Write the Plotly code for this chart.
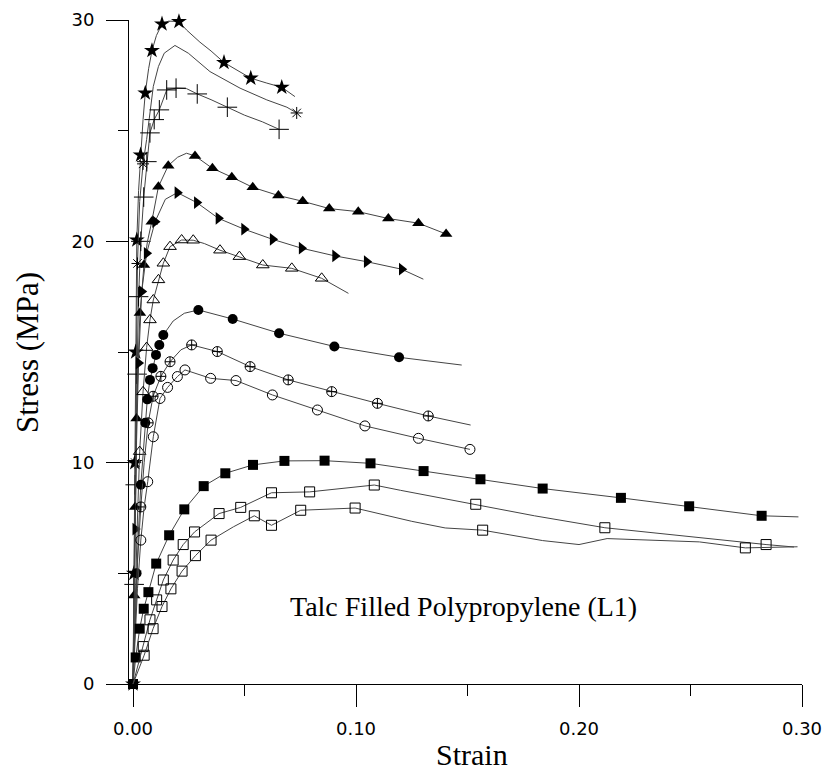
import plotly.graph_objects as go

# ---------------- data (strain, stress in MPa) ----------------
star_x = [0, 0.0004, 0.0008, 0.0012, 0.0017, 0.0025, 0.0034, 0.0045, 0.0055, 0.007, 0.0085, 0.0105, 0.013, 0.016, 0.0206, 0.024, 0.03, 0.035, 0.0408, 0.047, 0.0528, 0.06, 0.0667, 0.0726]
star_y = [0, 5, 10, 15, 20.06, 22.3, 23.9, 25.5, 26.7, 27.8, 28.62, 29.3, 29.82, 29.95, 29.93, 29.55, 29.0, 28.6, 28.08, 27.7, 27.37, 27.15, 26.96, 26.54]
star_mk = [0, 1, 2, 3, 4, 6, 8, 10, 12, 14, 18, 20, 22]

ast_x = [0, 0.0005, 0.001, 0.0015, 0.002, 0.003, 0.0045, 0.0061, 0.0076, 0.0091, 0.0114, 0.014, 0.0188, 0.0248, 0.0345, 0.048, 0.06, 0.069, 0.0734]
ast_y = [0, 5, 10, 15, 19, 21.8, 23.5, 24.6, 25.9, 27.0, 27.9, 28.5, 28.85, 28.5, 27.67, 26.92, 26.39, 26.06, 25.8]
ast_mk = [2, 4, 6, 18]

plus_x = [0, 0.0005, 0.001, 0.0018, 0.0025, 0.0035, 0.0048, 0.0062, 0.0076, 0.0095, 0.0118, 0.0151, 0.0193, 0.024, 0.0288, 0.035, 0.0423, 0.05, 0.058, 0.0655]
plus_y = [0, 4.5, 9, 14, 17.5, 20, 22, 23.6, 24.9, 25.5, 25.94, 26.84, 26.92, 26.9, 26.66, 26.4, 26.06, 25.7, 25.4, 25.06]
plus_mk = [1, 2, 3, 4, 5, 6, 7, 8, 9, 10, 11, 12, 14, 16, 19]

tri_x = [0, 0.0005, 0.001, 0.0016, 0.0023, 0.0031, 0.0039, 0.0049, 0.0065, 0.0084, 0.0114, 0.0158, 0.02, 0.024, 0.0278, 0.0356, 0.0443, 0.0537, 0.0652, 0.0761, 0.088, 0.101, 0.1145, 0.128, 0.1404]
tri_y = [0, 4, 8, 12, 14.5, 16.76, 17.65, 18.93, 20.0, 20.89, 22.47, 23.42, 23.8, 23.98, 23.86, 23.3, 22.9, 22.44, 22.07, 21.81, 21.48, 21.34, 21.03, 20.82, 20.33]
tri_mk = [1, 2, 3, 5, 7, 9, 10, 11, 14, 15, 16, 17, 18, 19, 20, 21, 22, 23, 24]

trr_x = [0, 0.0005, 0.001, 0.0016, 0.0025, 0.0039, 0.0061, 0.0099, 0.0145, 0.0199, 0.0286, 0.0383, 0.0498, 0.0626, 0.0756, 0.0906, 0.1048, 0.1205, 0.1302]
trr_y = [0, 3.5, 7, 11, 14.5, 17.73, 19.46, 20.89, 21.9, 22.2, 21.75, 21.04, 20.55, 20.09, 19.69, 19.34, 19.08, 18.74, 18.29]
trr_mk = [2, 4, 5, 6, 7, 9, 10, 11, 12, 13, 14, 15, 16, 17]

tro_x = [0, 0.001, 0.002, 0.003, 0.0045, 0.0061, 0.0076, 0.0091, 0.0114, 0.0136, 0.0166, 0.0218, 0.027, 0.032, 0.039, 0.0477, 0.0582, 0.0712, 0.0846, 0.0966]
tro_y = [0, 4, 7.5, 10.5, 13.2, 15.2, 16.45, 17.35, 18.26, 19.01, 19.76, 20.06, 20.05, 19.9, 19.6, 19.31, 18.93, 18.78, 18.33, 17.65]
tro_mk = [3, 4, 5, 6, 7, 8, 9, 10, 11, 12, 14, 15, 16, 17, 18]

cir_x = [0, 0.0008, 0.0016, 0.0025, 0.0035, 0.0045, 0.0055, 0.0064, 0.0076, 0.0088, 0.0103, 0.0118, 0.0136, 0.018, 0.023, 0.0293, 0.0447, 0.0655, 0.0903, 0.1193, 0.1474]
cir_y = [0, 2.5, 5, 7, 9, 10.5, 11.8, 12.86, 13.74, 14.27, 14.87, 15.32, 15.77, 16.4, 16.75, 16.9, 16.49, 15.85, 15.25, 14.76, 14.41]
cir_mk = [2, 4, 6, 7, 8, 9, 10, 11, 12, 15, 16, 17, 18, 19]

cxo_x = [0, 0.001, 0.002, 0.0035, 0.005, 0.0068, 0.009, 0.0125, 0.0166, 0.0215, 0.0263, 0.0378, 0.0525, 0.0696, 0.0891, 0.1096, 0.1324, 0.1514]
cxo_y = [0, 2.8, 5.5, 8, 10, 11.8, 13.0, 13.9, 14.56, 15.1, 15.32, 15.02, 14.34, 13.74, 13.21, 12.68, 12.11, 11.7]
cxo_mk = [3, 5, 6, 7, 8, 10, 11, 12, 13, 14, 15, 16]

cio_x = [0, 0.001, 0.002, 0.0035, 0.005, 0.0066, 0.0091, 0.0121, 0.0155, 0.0199, 0.0233, 0.0348, 0.0462, 0.0625, 0.0827, 0.104, 0.128, 0.1511]
cio_y = [0, 2.2, 4.3, 6.5, 8.0, 9.14, 11.17, 12.9, 13.4, 13.89, 14.19, 13.81, 13.71, 13.06, 12.38, 11.66, 11.1, 10.6]
cio_mk = [3, 5, 6, 7, 8, 9, 10, 11, 12, 13, 14, 15, 16, 17]

sqf_x = [0, 0.0012, 0.003, 0.0048, 0.0069, 0.0104, 0.0162, 0.023, 0.0317, 0.0414, 0.0538, 0.0679, 0.0859, 0.1065, 0.1303, 0.1558, 0.1837, 0.2188, 0.2494, 0.2819, 0.2984]
sqf_y = [0, 1.2, 2.5, 3.4, 4.15, 5.44, 6.72, 7.89, 8.94, 9.52, 9.9, 10.08, 10.09, 9.97, 9.62, 9.25, 8.83, 8.41, 8.03, 7.6, 7.55]
sqf_mk = [0, 1, 2, 3, 4, 5, 6, 7, 8, 9, 10, 11, 12, 13, 14, 15, 16, 17, 18, 19]

sqx_x = [0, 0.0046, 0.0076, 0.0106, 0.0136, 0.018, 0.0225, 0.0276, 0.0386, 0.0483, 0.0621, 0.0792, 0.095, 0.1082, 0.12, 0.1537, 0.18, 0.2116, 0.25, 0.2839, 0.2964]
sqx_y = [0, 1.69, 2.9, 3.8, 4.7, 5.6, 6.3, 6.87, 7.7, 7.98, 8.64, 8.68, 8.85, 8.99, 8.75, 8.12, 7.6, 7.06, 6.65, 6.3, 6.19]
sqx_mk = [1, 2, 3, 4, 5, 6, 7, 8, 9, 10, 11, 13, 15, 17, 19]

sqo_x = [0, 0.005, 0.009, 0.013, 0.017, 0.022, 0.028, 0.035, 0.045, 0.0544, 0.0621, 0.0752, 0.0996, 0.11, 0.125, 0.14, 0.1568, 0.1837, 0.2, 0.2126, 0.254, 0.2746, 0.298]
sqo_y = [0, 1.3, 2.5, 3.5, 4.3, 5.1, 5.8, 6.5, 7.1, 7.6, 7.17, 7.85, 7.95, 7.7, 7.35, 7.05, 6.95, 6.48, 6.3, 6.57, 6.42, 6.15, 6.2]
sqo_mk = [1, 2, 3, 4, 5, 6, 7, 9, 10, 11, 12, 16, 21]

x_ticks = [0, 0.1, 0.2, 0.3]
x_ticktext = ["0.00", "0.10", "0.20", "0.30"]
x_minor = [0.05, 0.15, 0.25]
y_ticks = [0, 10, 20, 30]
y_ticktext = ["0", "10", "20", "30"]
y_minor = [5, 15, 25]

# ---------------- styling ----------------
curves = [
    (star_x, star_y, star_mk, "star", 12, 0),
    (ast_x, ast_y, ast_mk, "asterisk-open", 10, 1),
    (plus_x, plus_y, plus_mk, "cross-thin-open", 14, 1),
    (tri_x, tri_y, tri_mk, "triangle-up", 11, 0),
    (trr_x, trr_y, trr_mk, "triangle-right", 11, 0),
    (tro_x, tro_y, tro_mk, "triangle-up-open", 11, 1),
    (cir_x, cir_y, cir_mk, "circle", 10, 0),
    (cxo_x, cxo_y, cxo_mk, "circle-cross-open", 10, 1),
    (cio_x, cio_y, cio_mk, "circle-open", 10, 1),
    (sqf_x, sqf_y, sqf_mk, "square", 10, 0),
    (sqx_x, sqx_y, sqx_mk, "square-open", 10, 1),
    (sqo_x, sqo_y, sqo_mk, "square-open", 10, 1),
]

fig = go.Figure()
for xs, ys, mk, sym, sz, lw in curves:
    fig.add_trace(go.Scatter(x=xs, y=ys, mode="lines",
                             line=dict(color="#444444", width=1),
                             hoverinfo="skip", showlegend=False, cliponaxis=False))
    fig.add_trace(go.Scatter(x=[xs[i] for i in mk], y=[ys[i] for i in mk], mode="markers",
                             marker=dict(symbol=sym, size=sz, color="black",
                                         line=dict(color="black", width=lw)),
                             showlegend=False, cliponaxis=False))

axis_font = dict(family="DejaVu Sans", size=18, color="black")
fig.update_layout(
    width=823, height=775,
    margin=dict(l=129, r=21, t=20, b=91),
    paper_bgcolor="white", plot_bgcolor="white",
    showlegend=False,
    xaxis=dict(range=[-0.0018, 0.3], tickvals=x_ticks, ticktext=x_ticktext,
               ticks="outside", ticklen=22, tickwidth=1, tickcolor="black",
               showline=True, linecolor="black", linewidth=1, showgrid=False,
               zeroline=False, tickfont=axis_font, ticklabelstandoff=6,
               ticklabeloverflow="allow", automargin=False,
               minor=dict(tickvals=x_minor, ticks="outside", ticklen=11,
                          tickwidth=1, tickcolor="black", showgrid=False)),
    yaxis=dict(range=[0, 30], tickvals=y_ticks, ticktext=y_ticktext,
               ticks="outside", ticklen=22, tickwidth=1, tickcolor="black",
               showline=True, linecolor="black", linewidth=1, showgrid=False,
               zeroline=False, tickfont=axis_font, ticklabelstandoff=8,
               ticklabeloverflow="allow", automargin=False,
               minor=dict(tickvals=y_minor, ticks="outside", ticklen=10,
                          tickwidth=1, tickcolor="black", showgrid=False)),
    annotations=[
        dict(text="Strain", xref="paper", yref="paper", x=0.5097, y=-0.1069,
             xanchor="center", yanchor="middle", showarrow=False,
             font=dict(family="Liberation Serif", size=30, color="black")),
        dict(text="Stress (MPa)", xref="paper", yref="paper", x=-0.150, y=0.4985,
             xanchor="center", yanchor="middle", showarrow=False, textangle=-90,
             font=dict(family="Liberation Serif", size=31, color="black")),
        dict(text="Talc Filled Polypropylene (L1)", xref="x", yref="y",
             x=0.148, y=3.5, xanchor="center", yanchor="middle", showarrow=False,
             font=dict(family="Liberation Serif", size=28, color="black")),
    ],
)

# remove the browser's default 8px body margin so the figure fills the window exactly
fig.write_html("out.html",
               config={"displayModeBar": False},
               post_script="document.body.style.margin='0';document.body.style.overflow='hidden';")
